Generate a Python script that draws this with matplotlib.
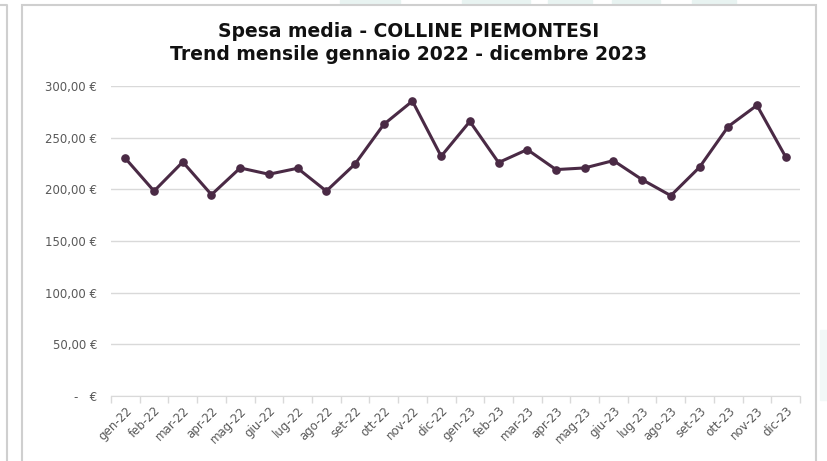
import matplotlib.pyplot as plt
from matplotlib.patches import Rectangle
from matplotlib.lines import Line2D
from matplotlib.ticker import FuncFormatter, FixedLocator

months = ['gen-22', 'feb-22', 'mar-22', 'apr-22', 'mag-22', 'giu-22',
          'lug-22', 'ago-22', 'set-22', 'ott-22', 'nov-22', 'dic-22',
          'gen-23', 'feb-23', 'mar-23', 'apr-23', 'mag-23', 'giu-23',
          'lug-23', 'ago-23', 'set-23', 'ott-23', 'nov-23', 'dic-23']
spesa = [230.0, 198.3, 226.5, 194.8, 220.7, 214.6,
         220.4, 198.3, 224.5, 262.8, 285.4, 232.0,
         265.7, 225.9, 238.5, 219.1, 220.7, 227.8,
         209.4, 193.9, 221.4, 260.8, 281.3, 231.4]

title = 'Spesa media - COLLINE PIEMONTESI\nTrend mensile gennaio 2022 - dicembre 2023'

W, H = 828, 461
fig = plt.figure(figsize=(W / 100, H / 100), dpi=100)
fig.patch.set_facecolor('white')

# faint background shapes behind the chart panel
for x0, x1 in [(340, 400), (462, 530), (548, 592), (612, 660), (692, 736)]:
    fig.patches.append(Rectangle((x0 / W, 1 - 5 / H), (x1 - x0) / W, 5 / H,
                                 transform=fig.transFigure, color='#e8f3f1', zorder=0))
fig.patches.append(Rectangle((820 / W, 1 - 400 / H), 8 / W, 70 / H,
                             transform=fig.transFigure, color='#f2f8f7', zorder=0))

# chart panel frame and neighbouring panel edge
fig.patches.append(Rectangle((22 / W, -0.02), (816 - 22) / W, 1 - 5.5 / H + 0.02,
                             transform=fig.transFigure, facecolor='white',
                             edgecolor='#cfcfcf', lw=1.5, zorder=1))
fig.lines.append(Line2D([0, 7 / W, 7 / W], [1 - 5.5 / H, 1 - 5.5 / H, 0],
                        transform=fig.transFigure, color='#cfcfcf', lw=1.5))

ax = fig.add_axes([111 / W, 65 / H, (800 - 111) / W, (396 - 86) / H])
ax.set_facecolor('none')
ax.set_zorder(2)

x = list(range(len(months)))
ax.plot(x, spesa, color='#4a2a45', lw=2.2, marker='o', markersize=5.2, zorder=3)

ax.set_xlim(-0.5, len(months) - 0.5)
ax.set_ylim(0, 300)
ax.set_yticks([0, 50, 100, 150, 200, 250, 300])


def euro(v, pos):
    if v == 0:
        return '-   €'
    return '{:,.2f}'.format(v).replace(',', 'X').replace('.', ',').replace('X', '.') + ' €'


ax.yaxis.set_major_formatter(FuncFormatter(euro))
ax.grid(axis='y', color='#d9d9d9', lw=1)
ax.set_axisbelow(True)
ax.tick_params(axis='y', length=0, pad=10, labelsize=8.5, labelcolor='#595959')

ax.set_xticks(x)
ax.set_xticklabels(months, rotation=45, ha='right', rotation_mode='anchor')
ax.tick_params(axis='x', which='major', length=0, pad=6, labelsize=8.5, labelcolor='#595959')
ax.xaxis.set_minor_locator(FixedLocator([i - 0.5 for i in range(len(months) + 1)]))
ax.tick_params(axis='x', which='minor', length=5, color='#d9d9d9', width=1)

for s in ['top', 'right', 'left']:
    ax.spines[s].set_visible(False)
ax.spines['bottom'].set_color('#d9d9d9')

fig.text(0.494, 1 - 22 / H, title, ha='center', va='top', fontsize=13.5,
         fontweight='bold', color='#111111', linespacing=1.3, zorder=5)

fig.savefig('out.png', dpi=100, facecolor='white')
